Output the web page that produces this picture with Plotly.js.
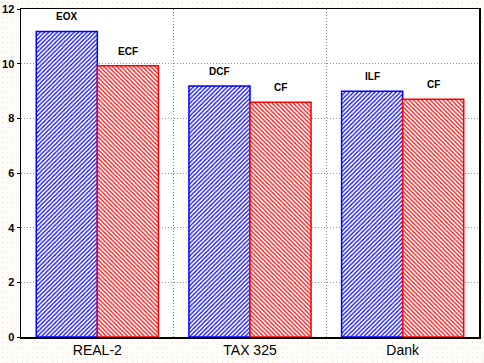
<!DOCTYPE html>
<html><head><meta charset="utf-8">
<script src="https://cdn.plot.ly/plotly-3.0.1.min.js"></script>
<style>
html,body{margin:0;padding:0;width:484px;height:363px;overflow:hidden;
background-color:#fffefb;
background-image:radial-gradient(#f6dccb 0.6px, transparent 0.7px);
background-size:5px 5px;}
#chart{width:484px;height:363px;}
</style></head>
<body><div id="chart"></div>
<script>
const categories = ["REAL-2", "TAX 325", "Dank"];
const blueValues = [11.18, 9.18, 8.99];
const redValues = [9.92, 8.59, 8.70];
const blueLabels = ["EOX", "DCF", "ILF"];
const redLabels = ["ECF", "CF", "CF"];
const yTicks = [0, 2, 4, 6, 8, 10, 12];

const xIdx = categories.map((c, i) => i);

const traces = [
  {type:'bar', x:xIdx, y:blueValues, name:'A', offset:-0.4, width:0.4,
   marker:{color:'white', line:{color:'#0000ff', width:1.5},
     pattern:{shape:'/', fgcolor:'#0000ff', bgcolor:'white', size:3, solidity:0.4}},
   hoverinfo:'skip'},
  {type:'bar', x:xIdx, y:redValues, name:'B', offset:0, width:0.4,
   marker:{color:'white', line:{color:'#ff0000', width:1.5},
     pattern:{shape:'\\', fgcolor:'#ff0000', bgcolor:'white', size:3, solidity:0.4}},
   hoverinfo:'skip'}
];

const annotations = [];
xIdx.forEach(i => {
  annotations.push({x:i-0.2, y:blueValues[i], text:blueLabels[i], showarrow:false,
    yanchor:'bottom', yshift:7, font:{family:'Arial, Liberation Sans', size:10, color:'black', weight:'bold'}});
  annotations.push({x:i+0.2, y:redValues[i], text:redLabels[i], showarrow:false,
    yanchor:'bottom', yshift:7, font:{family:'Arial, Liberation Sans', size:10, color:'black', weight:'bold'}});
});

const layout = {
  width:484, height:363,
  margin:{l:21, r:5, t:9, b:26},
  paper_bgcolor:'rgba(0,0,0,0)', plot_bgcolor:'white',
  showlegend:false,
  barmode:'overlay',
  xaxis:{range:[-0.5, 2.5], tickmode:'array', tickvals:xIdx, ticktext:categories,
    showgrid:false, zeroline:false, showline:true, linecolor:'black', linewidth:1.5, mirror:true,
    ticks:'', tickfont:{family:'Arial, Liberation Sans', size:14, color:'black'},
    minor:{tickmode:'array', tickvals:[0.5, 1.5], showgrid:true, gridcolor:'#888888', griddash:'1px,2px', gridwidth:1, ticks:''}},
  yaxis:{range:[0, 12], tickmode:'array', tickvals:yTicks, ticktext:yTicks.map(String),
    showgrid:true, gridcolor:'#999999', griddash:'1px,2px', gridwidth:1,
    zeroline:false, showline:true, linecolor:'black', linewidth:1.5, mirror:true,
    ticks:'outside', ticklen:3, tickcolor:'black',
    tickfont:{family:'Arial, Liberation Sans', size:11, color:'black', weight:'bold'}},
  annotations:annotations
};

Plotly.newPlot('chart', traces, layout, {displayModeBar:false, staticPlot:true});
</script></body></html>
